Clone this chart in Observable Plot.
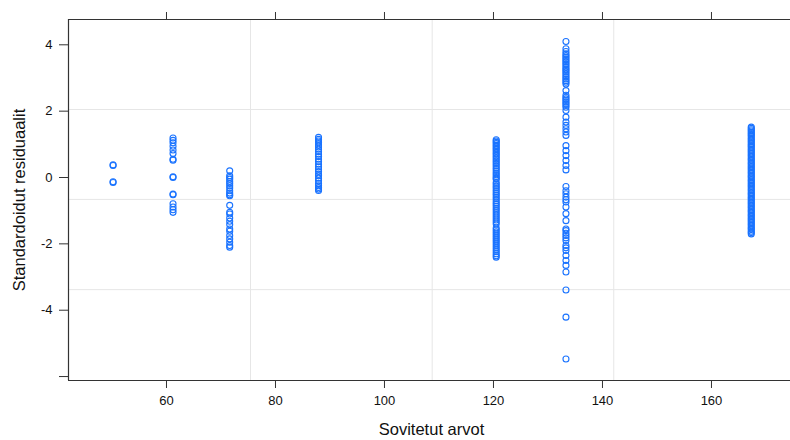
<!DOCTYPE html>
<html>
<head>
<meta charset="utf-8">
<script src="https://cdn.jsdelivr.net/npm/d3@7"></script>
<script src="https://cdn.jsdelivr.net/npm/@observablehq/plot@0.6"></script>
<style>
  html, body { margin: 0; padding: 0; background: #fff; }
  #chart { width: 790px; height: 440px; overflow: hidden; }
</style>
</head>
<body>
<div id="chart"></div>
<script>
// Fitted values (x) of each group of observations
const fittedValues = [50.2, 61.2, 71.6, 87.9, 120.5, 133.3, 167.3];

// Standardised residuals per group
const res50 = [0.38, 0.36, -0.13, -0.15];
const res61 = [1.19, 1.12, 1.05, 0.94, 0.83, 0.72, 0.55, 0.52, 0.02, 0.0, -0.50, -0.52, -0.79, -0.89, -0.97, -1.05];
const res71 = [0.20, 0.05, 0.0, -0.05, -0.12, -0.18, -0.25, -0.32, -0.40, -0.47, -0.52, -0.55, -0.84, -1.05, -1.10, -1.22, -1.32, -1.42, -1.55, -1.62, -1.75, -1.85, -1.95, -2.05, -2.10];
const res88 = [1.21, 1.15, 1.10, 1.05, 0.98, 0.92, 0.85, 0.78, 0.70, 0.63, 0.55, 0.48, 0.40, 0.32, 0.25, 0.18, 0.10, 0.05, -0.02, -0.10, -0.18, -0.25, -0.30, -0.35, -0.39];
const res120 = [1.14, 1.10, 1.06, 1.02, 0.97, 0.93, 0.88, 0.84, 0.79, 0.74, 0.70, 0.65, 0.60, 0.55, 0.50, 0.45, 0.40, 0.35, 0.29, 0.24, 0.18, 0.13, 0.08, 0.03, -0.02, -0.05, -0.15, -0.20, -0.26, -0.31, -0.37, -0.42, -0.48, -0.53, -0.59, -0.64, -0.70, -0.76, -0.81, -0.87, -0.93, -0.98, -1.04, -1.10, -1.16, -1.22, -1.28, -1.34, -1.40, -1.52, -1.58, -1.64, -1.70, -1.76, -1.82, -1.88, -1.94, -2.00, -2.06, -2.12, -2.18, -2.24, -2.30, -2.36, -2.40];
const res133 = [4.10, 3.88, 3.80, 3.73, 3.68, 3.63, 3.58, 3.53, 3.48, 3.43, 3.38, 3.32, 3.27, 3.23, 3.18, 3.13, 3.07, 3.02, 2.97, 2.92, 2.87, 2.82, 2.62, 2.48, 2.42, 2.37, 2.32, 2.27, 2.22, 2.17, 2.12, 2.02, 1.82, 1.67, 1.57, 1.47, 1.37, 1.27, 0.96, 0.81, 0.66, 0.51, 0.36, 0.23, -0.27, -0.40, -0.49, -0.59, -0.67, -0.74, -0.89, -1.09, -1.30, -1.55, -1.60, -1.68, -1.75, -1.82, -1.90, -2.05, -2.12, -2.20, -2.35, -2.50, -2.65, -2.85, -3.39, -4.21, -5.47];
const res167 = [1.52, 1.48, 1.44, 1.40, 1.36, 1.32, 1.28, 1.24, 1.19, 1.15, 1.11, 1.07, 1.02, 0.98, 0.94, 0.90, 0.85, 0.81, 0.77, 0.72, 0.68, 0.64, 0.59, 0.55, 0.51, 0.46, 0.42, 0.38, 0.33, 0.29, 0.25, 0.20, 0.16, 0.12, 0.07, 0.03, -0.01, -0.06, -0.10, -0.14, -0.19, -0.23, -0.27, -0.32, -0.36, -0.40, -0.45, -0.49, -0.53, -0.58, -0.62, -0.66, -0.71, -0.75, -0.79, -0.84, -0.88, -0.92, -0.97, -1.01, -1.05, -1.10, -1.14, -1.18, -1.23, -1.27, -1.31, -1.36, -1.40, -1.44, -1.49, -1.53, -1.57, -1.62, -1.66, -1.70];

// Axis ticks, grid positions and labels
const xTicks = [60, 80, 100, 120, 140, 160];
const yTicks = [4, 2, 0, -2, -4, -6];
const yTickLabels = ["4", "2", "0", "-2", "-4", ""];
const xGrid = [75.41, 108.75, 142.07];
const yGrid = [2.05, -0.66, -3.38];
const xDomain = [42.02, 174.5];
const yDomain = [-6.119, 4.763];
const xTitle = "Sovitetut arvot";
const yTitle = "Standardoidut residuaalit";

const groups = [res50, res61, res71, res88, res120, res133, res167];
const points = groups.flatMap((vals, i) => vals.map(r => ({fitted: fittedValues[i], residual: r})));

const axisColor = "#333";
const chart = Plot.plot({
  width: 790,
  height: 440,
  marginLeft: 68,
  marginRight: 0,
  marginTop: 19,
  marginBottom: 60,
  style: {fontFamily: "'Liberation Sans', Arial, Helvetica, sans-serif", background: "#fff", color: "#111"},
  x: {domain: xDomain},
  y: {domain: yDomain},
  marks: [
    Plot.ruleX(xGrid, {stroke: "#e6e6e6", strokeWidth: 1}),
    Plot.ruleY(yGrid, {stroke: "#e6e6e6", strokeWidth: 1}),
    Plot.dot(points, {x: "fitted", y: "residual", r: 3, stroke: "#1a73ff", strokeWidth: 1.1, fill: "none"}),
    Plot.ruleY([yDomain[1]], {stroke: axisColor, strokeWidth: 1.2}),
    Plot.ruleY([yDomain[0]], {stroke: axisColor, strokeWidth: 1.2}),
    Plot.ruleX([xDomain[0]], {stroke: axisColor, strokeWidth: 1.2}),
    Plot.axisX(xTicks, {anchor: "bottom", tickSize: 8, tickPadding: 7, fontSize: 13, stroke: axisColor, tickFormat: d => String(d), label: null}),
    Plot.axisX(xTicks, {anchor: "top", tickSize: 8, tickFormat: () => "", stroke: axisColor, label: null}),
    Plot.axisY(yTicks, {anchor: "left", tickSize: 9, tickPadding: 7, fontSize: 13, stroke: axisColor, tickFormat: d => yTickLabels[yTicks.indexOf(d)], label: null}),
    Plot.text([xTitle], {frameAnchor: "bottom", textAnchor: "middle", lineAnchor: "middle", dx: 2, dy: 49, fontSize: 16.5, fill: "#111"}),
    Plot.text([yTitle], {frameAnchor: "left", textAnchor: "middle", lineAnchor: "middle", rotate: -90, dx: -49, fontSize: 16.5, fill: "#111"})
  ]
});
document.getElementById("chart").appendChild(chart);
</script>
</body>
</html>
